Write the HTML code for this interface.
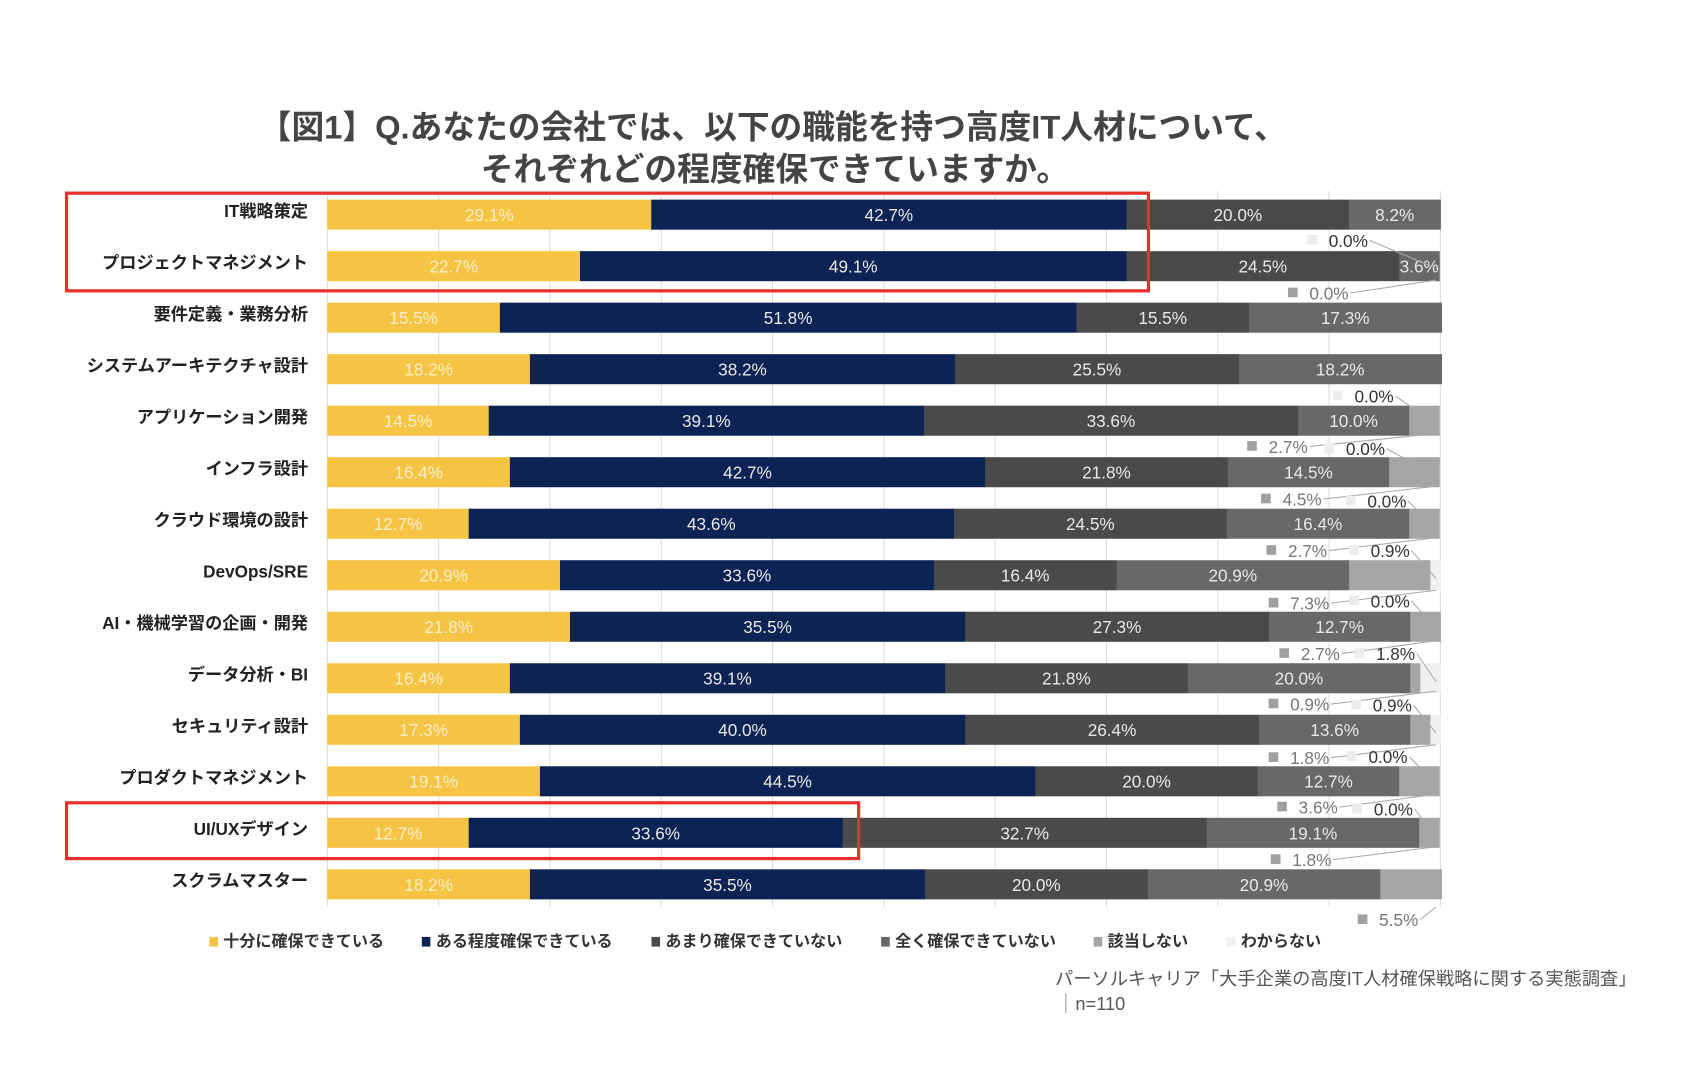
<!DOCTYPE html>
<html><head><meta charset="utf-8"><style>
html,body{margin:0;padding:0;background:#fff;}
svg{display:block;}
text{font-family:"Liberation Sans","Noto Sans CJK JP",sans-serif;}
</style></head><body>
<svg id="s" width="1684" height="1070" viewBox="0 0 1569 997" preserveAspectRatio="none" xmlns="http://www.w3.org/2000/svg">
<text x="720" y="129" text-anchor="middle" font-size="30.5" font-weight="bold" fill="#444" font-family="'Noto Sans CJK JP',sans-serif">【図1】Q.あなたの会社では、以下の職能を持つ高度IT人材について、</text>
<text x="722" y="168" text-anchor="middle" font-size="30.5" font-weight="bold" fill="#444" font-family="'Noto Sans CJK JP',sans-serif">それぞれどの程度確保できていますか。</text>
<g id="g"></g>
<text x="983" y="918" font-size="17" fill="#555">パーソルキャリア「大手企業の高度IT人材確保戦略に関する実態調査」</text>
<line x1="993" y1="926" x2="993" y2="944" stroke="#999" stroke-width="1"/>
<text x="1002" y="941" font-size="17" fill="#555">n=110</text>
<rect x="62" y="180" width="1008" height="91" fill="none" stroke="#e8302a" stroke-width="3"/>
<rect x="62" y="748" width="738" height="52" fill="none" stroke="#e8302a" stroke-width="3"/>
</svg>
<script>
var NS="http://www.w3.org/2000/svg",g=document.getElementById('g');
function el(t,a,txt){var e=document.createElementNS(NS,t);for(var k in a)e.setAttribute(k,a[k]);if(txt!=null)e.textContent=txt;g.appendChild(e);return e;}
var labels=["IT戦略策定","プロジェクトマネジメント","要件定義・業務分析","システムアーキテクチャ設計","アプリケーション開発","インフラ設計","クラウド環境の設計","DevOps/SRE","AI・機械学習の企画・開発","データ分析・BI","セキュリティ設計","プロダクトマネジメント","UI/UXデザイン","スクラムマスター"];
var D=[[29.1,42.7,20.0,8.2,0,0],[22.7,49.1,24.5,3.6,0,0],[15.5,51.8,15.5,17.3,0,0],[18.2,38.2,25.5,18.2,0,0],[14.5,39.1,33.6,10.0,2.7,0],[16.4,42.7,21.8,14.5,4.5,0],[12.7,43.6,24.5,16.4,2.7,0],[20.9,33.6,16.4,20.9,7.3,0.9],[21.8,35.5,27.3,12.7,2.7,0],[16.4,39.1,21.8,20.0,0.9,1.8],[17.3,40.0,26.4,13.6,1.8,0.9],[19.1,44.5,20.0,12.7,3.6,0],[12.7,33.6,32.7,19.1,1.8,0],[18.2,35.5,20.0,20.9,5.5,0]];
var C=["#f5c445","#0c2353","#4a4a4a","#686868","#a5a5a5","#f0f0f0"];
var X0=305,W=1037;
for(var k=0;k<=10;k++){var x=X0+W*k/10;el('line',{x1:x,y1:178,x2:x,y2:845,stroke:"#dcdcdc","stroke-width":1});}
for(var i=0;i<14;i++){
 var cy=200+48*i,x=X0,d=D[i];
 el('text',{x:287,y:cy+2,"text-anchor":"end","font-size":16,"font-weight":"bold",fill:"#222"},labels[i]);
 for(var j=0;j<6;j++){
  var w=W*d[j]/100; if(w<=0)continue;
  el('rect',{x:x,y:cy-14,width:w+0.5,height:28,fill:C[j]});
  if(j<4) el('text',{x:x+w/2,y:cy+6,"text-anchor":"middle","font-size":16,fill:(j==0?"#fbeec8":"#e8e8e8")},d[j].toFixed(1)+"%");
  x+=w;
 }
}
var O=[[1238,230,"0.0%",5],[1220,279,"0.0%",4],
[1262,375,"0.0%",5],[1182,422,"2.7%",4],
[1254,424,"0.0%",5],[1195,471,"4.5%",4],
[1274,473,"0.0%",5],[1200,519,"2.7%",4],
[1277,519,"0.9%",5],[1202,568,"7.3%",4],
[1277,566,"0.0%",5],[1212,615,"2.7%",4],
[1282,615,"1.8%",5],[1202,662,"0.9%",4],
[1279,663,"0.9%",5],[1202,712,"1.8%",4],
[1275,711,"0.0%",5],[1210,758,"3.6%",4],
[1280,760,"0.0%",5],[1204,807,"1.8%",4],
[1285,863,"5.5%",4]];
O.forEach(function(o){
 el('rect',{x:o[0]-20,y:o[1]-11,width:9,height:9,fill:o[3]==4?"#a0a0a0":"#ececec"});
 el('text',{x:o[0],y:o[1],"font-size":16,fill:o[3]==4?"#777":"#333"},o[2]);
 var ly=o[3]==4?o[1]-12:o[1]+14;
 el('line',{x1:o[0]+38,y1:o[1]-6,x2:1338,y2:ly+(o[3]==4?-6:6),stroke:"#aaa","stroke-width":1});
});
var L=[[195,"十分に確保できている",C[0]],[393,"ある程度確保できている",C[1]],[607,"あまり確保できていない",C[2]],[821,"全く確保できていない",C[3]],[1019,"該当しない",C[4]],[1143,"わからない",C[5]]];
L.forEach(function(l){
 el('rect',{x:l[0],y:873,width:8,height:9,fill:l[2]});
 el('text',{x:l[0]+13,y:882,"font-size":15,"font-weight":"bold",fill:"#333"},l[1]);
});
</script>
</body></html>
